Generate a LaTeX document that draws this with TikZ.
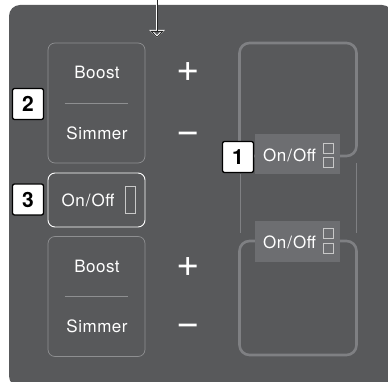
\documentclass[tikz,border=0pt]{standalone}
\usepackage{fontspec}
\setmainfont{TeX Gyre Heros}
\newfontfamily\keyfont[LetterSpace=3]{TeX Gyre Heros}
\usetikzlibrary{
  arrows.meta,
  positioning
}
\definecolor{panelgray}{HTML}{58595B}
\definecolor{keygray}{HTML}{8E8F91}
\definecolor{framegray}{HTML}{7F8083}
\definecolor{labelgray}{HTML}{6D6E71}
\definecolor{ledgray}{HTML}{C8C8C8}
\newcommand\onoff{On\kern1pt/\kern1pt Off}

\begin{document}
\begin{tikzpicture}[
  x=1pt, y=-1pt,
  key/.style={draw=keygray,line width=0.7pt,rounded corners=7pt,minimum width=97pt,minimum height=120pt,inner sep=0pt},
  onoffkey/.style={draw=white,line width=0.9pt,rounded corners=7pt,minimum width=97pt,minimum height=54pt,inner sep=0pt},
  keytext/.style={text=white,inner sep=0pt,font=\keyfont\fontsize{17}{18}\selectfont},
  sign/.style={text=white,inner sep=0pt,anchor=base,font=\fontsize{40}{40}\selectfont},
  tag/.style={draw=black,fill=white,line width=1.3pt,rounded corners=2pt,minimum size=31pt,inner sep=0pt,font=\bfseries\fontsize{21}{21}\selectfont},
  zone/.style={draw=framegray,line width=2.6pt,rounded corners=10pt},
  zonelabel/.style={fill=labelgray,minimum width=85pt,minimum height=40pt,inner sep=0pt},
  led/.style={draw=ledgray,line width=0.8pt,minimum size=10pt,inner sep=0pt}
]
\useasboundingbox (0,0) rectangle (388,382);
\clip (0,0) rectangle (388,382);
\fill[panelgray,rounded corners=11pt] (9,5) rectangle (393,387);

% feed arrow
\coordinate (feed) at (157,-2);
\coordinate (feedtip) at (157,38);
\draw[white,line width=2.6pt,-{Triangle[open,length=8pt,width=15pt,line width=2pt]}] (feed) -- (feedtip);
\draw[black!85,line width=0.9pt,-{Triangle[open,length=7pt,width=13pt]}] (feed) -- (feedtip);

% left keys
\node[key] (keyA) at (96.5,103) {};
\node[keytext] (boostA) at (97,72) {Boost};
\node[keytext] (simmerA) at (97,133) {Simmer};
\draw[keygray,line width=0.6pt] ([xshift=17pt]keyA.west) -- ([xshift=-17pt]keyA.east);

\node[onoffkey] (keyB) at (96.5,200) {};
\node[keytext] (onoffB) at (88,200) {\onoff};
\node[led,minimum width=10pt,minimum height=27pt] (ledB) at (130,199.5) {};

\node[key] (keyC) at (96.5,296.5) {};
\node[keytext] (boostC) at (97,266) {Boost};
\node[keytext] (simmerC) at (97,326) {Simmer};
\draw[keygray,line width=0.6pt] ([xshift=17pt]keyC.west) -- ([xshift=-17pt]keyC.east);

\node[sign] (plusA) at (188,82) {+};
\node[sign] (minusA) at (188,143.5) {−};
\node[sign] (plusC) at (188,276) {+};
\node[sign] (minusC) at (188,335.5) {−};

% cooking zones
\draw[zone] (239.5,43) rectangle (356.5,156);
\draw[zone] (239.5,241) rectangle (356.5,355);
\draw[framegray,line width=0.9pt] (240,174) -- (240,233);
\draw[framegray,line width=0.9pt] (356,163) -- (356,233);

\node[zonelabel] (zoneA) at (297.5,154) {};
\node[keytext] (onoffA) at (289.5,155.5) {\onoff};
\node[led] (ledA1) at (328.5,148.5) {};
\node[led] (ledA2) at (328.5,162.5) {};

\node[zonelabel,minimum height=41pt] (zoneC) at (297.5,241.5) {};
\node[keytext] (onoffC) at (289.5,242.5) {\onoff};
\node[led] (ledC1) at (328.5,233) {};
\node[led] (ledC2) at (328.5,248.5) {};

% numbered tags
\node[tag] (tag1) at (238,157) {1};
\node[tag] (tag2) at (28,104) {2};
\node[tag] (tag3) at (28,199.5) {3};
\end{tikzpicture}
\end{document}
